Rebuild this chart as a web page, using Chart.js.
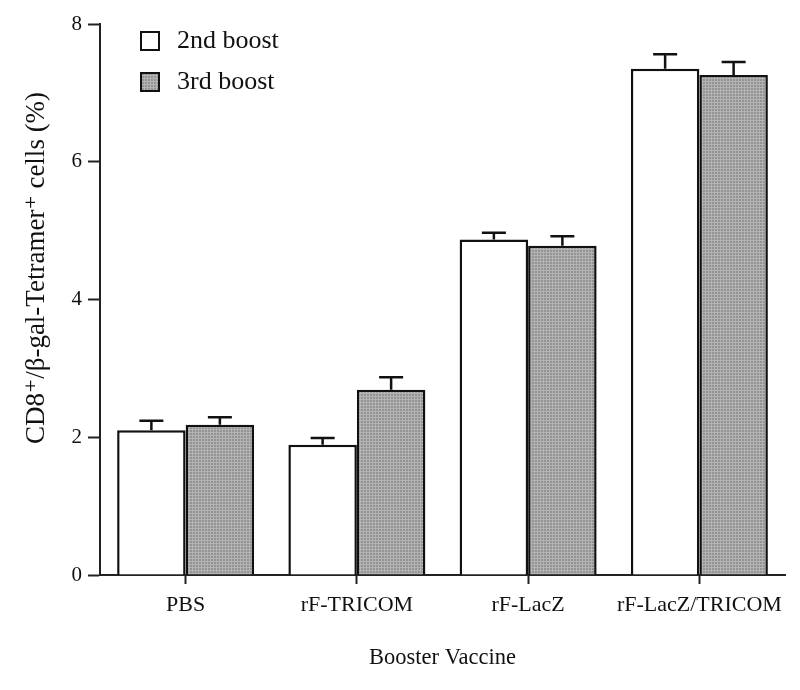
<!DOCTYPE html>
<html lang="en">
<head>
<meta charset="utf-8"/>
<title>Booster Vaccine</title>
<style>
  body { margin: 0; background: #fff; }
  #wrap { width: 800px; height: 690px; }
</style>
</head>
<body>
<div id="wrap"><canvas id="chart" width="800" height="690"></canvas></div>
<script src="https://cdn.jsdelivr.net/npm/chart.js@4"></script>
<script>
const categories = ["PBS", "rF-TRICOM", "rF-LacZ", "rF-LacZ/TRICOM"];
const boost2 = [2.10, 1.89, 4.87, 7.35];
const boost2Err = [0.14, 0.10, 0.10, 0.21];
const boost3 = [2.18, 2.69, 4.78, 7.26];
const boost3Err = [0.11, 0.18, 0.14, 0.19];
const seriesNames = ["2nd boost", "3rd boost"];
const yTicks = [0, 2, 4, 6, 8];
const yTitle = 'CD8\u207A/\u03B2-gal-Tetramer\u207A cells (%)';

const serif = "'Liberation Serif', 'DejaVu Serif', serif";

// grey dotted fill like the scanned figure
function makePattern() {
  const p = document.createElement('canvas');
  p.width = 3; p.height = 3;
  const c = p.getContext('2d');
  c.fillStyle = '#939393';
  c.fillRect(0, 0, 3, 3);
  c.fillStyle = '#b3b3b3';
  c.fillRect(0, 0, 3, 1);
  c.fillRect(0, 0, 1, 3);
  return document.getElementById('chart').getContext('2d').createPattern(p, 'repeat');
}
const greyFill = makePattern();

const errors = [boost2Err, boost3Err];

const errorBars = {
  id: 'errorBars',
  afterDatasetsDraw(chart) {
    const ctx = chart.ctx;
    const y = chart.scales.y;
    ctx.save();
    ctx.strokeStyle = '#111';
    ctx.lineWidth = 2.5;
    chart.data.datasets.forEach((ds, di) => {
      const meta = chart.getDatasetMeta(di);
      meta.data.forEach((bar, i) => {
        const top = y.getPixelForValue(ds.data[i] + errors[di][i]);
        ctx.beginPath();
        ctx.moveTo(bar.x, bar.y);
        ctx.lineTo(bar.x, top);
        ctx.moveTo(bar.x - 12, top);
        ctx.lineTo(bar.x + 12, top);
        ctx.stroke();
      });
    });
    ctx.restore();
  }
};

// legend boxes + the y title (the original sits above the axis centre)
const extras = {
  id: 'extras',
  afterDraw(chart) {
    const ctx = chart.ctx;
    ctx.save();
    const fills = ['#ffffff', greyFill];
    const rows = [41, 82];
    rows.forEach((cy, i) => {
      ctx.fillStyle = fills[i];
      ctx.fillRect(141, cy - 9, 18, 18);
      ctx.lineWidth = 2;
      ctx.strokeStyle = '#111';
      ctx.strokeRect(141, cy - 9, 18, 18);
      ctx.fillStyle = '#111';
      ctx.font = '26px ' + serif;
      ctx.textBaseline = 'middle';
      ctx.textAlign = 'left';
      ctx.fillText(seriesNames[i], 177, cy);
    });
    ctx.translate(37, 268);
    ctx.rotate(-Math.PI / 2);
    ctx.font = '27px ' + serif;
    ctx.textAlign = 'center';
    ctx.textBaseline = 'middle';
    ctx.fillStyle = '#111';
    ctx.fillText(yTitle, 0, 0);
    ctx.restore();
  }
};

new Chart(document.getElementById('chart'), {
  type: 'bar',
  data: {
    labels: categories,
    datasets: [
      {
        label: seriesNames[0],
        data: boost2,
        backgroundColor: '#ffffff',
        borderColor: '#111',
        borderWidth: 2.5,
        categoryPercentage: 0.8,
        barPercentage: 1.0
      },
      {
        label: seriesNames[1],
        data: boost3,
        backgroundColor: greyFill,
        borderColor: '#111',
        borderWidth: 2.5,
        categoryPercentage: 0.8,
        barPercentage: 1.0
      }
    ]
  },
  options: {
    responsive: false,
    animation: false,
    layout: { padding: { left: 0, top: 24, right: 15, bottom: 0 } },
    plugins: {
      legend: { display: false },
      tooltip: { enabled: false }
    },
    scales: {
      x: {
        grid: { display: true, drawOnChartArea: false, offset: false, tickLength: 9, tickColor: '#222', tickWidth: 2 },
        border: { display: true, color: '#222', width: 2 },
        ticks: { color: '#111', font: { family: serif, size: 22 }, padding: 8, maxRotation: 0 },
        title: { display: true, text: 'Booster Vaccine', color: '#111', font: { family: serif, size: 22.5 }, padding: { top: 4, bottom: 18 } },
        afterFit(scale) { scale.height = 115; }
      },
      y: {
        min: 0,
        max: 8,
        afterBuildTicks(scale) { scale.ticks = yTicks.map(v => ({ value: v })); },
        grid: { display: true, drawOnChartArea: false, tickLength: 12, tickColor: '#222', tickWidth: 2 },
        border: { display: true, color: '#222', width: 2 },
        ticks: { color: '#111', font: { family: serif, size: 21 }, padding: 6 },
        afterFit(scale) { scale.width = 100; }
      }
    }
  },
  plugins: [errorBars, extras]
});
</script>
</body>
</html>
